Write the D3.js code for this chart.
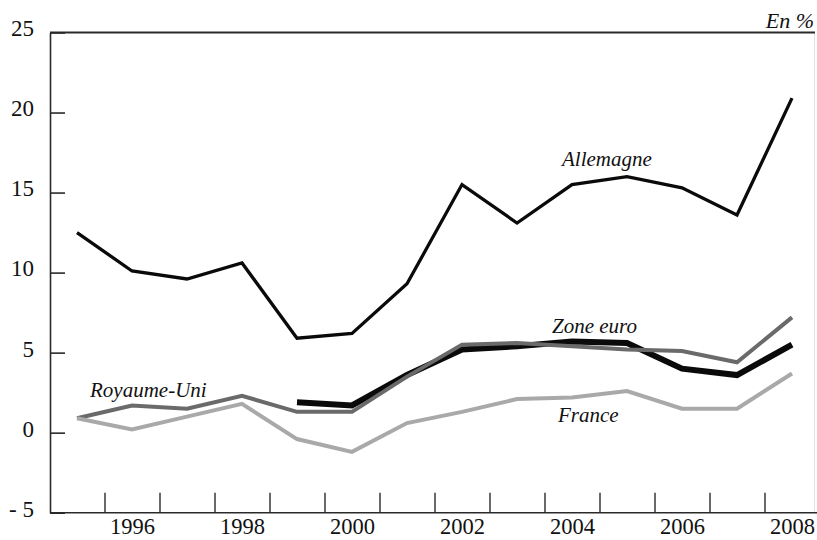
<!DOCTYPE html>
<html>
<head>
<meta charset="utf-8">
<script src="https://cdn.jsdelivr.net/npm/d3@7/dist/d3.min.js"></script>
<style>
  html, body { margin: 0; padding: 0; background: #fff; }
  svg { display: block; }
  text { font-family: "Liberation Serif", "Times New Roman", serif; fill: #111; }
</style>
</head>
<body>
<svg id="chart" width="817" height="540"></svg>
<script>
// ---- Data ----
const years = [1995, 1996, 1997, 1998, 1999, 2000, 2001, 2002, 2003, 2004, 2005, 2006, 2007, 2008];
const allemagne = [12.5, 10.1, 9.6, 10.6, 5.9, 6.2, 9.3, 15.5, 13.1, 15.5, 16.0, 15.3, 13.6, 20.9];
const royaumeUni = [0.9, 1.7, 1.5, 2.3, 1.3, 1.3, 3.5, 5.5, 5.6, 5.4, 5.2, 5.1, 4.4, 7.2];
const france = [0.9, 0.2, 1.0, 1.8, -0.4, -1.2, 0.6, 1.3, 2.1, 2.2, 2.6, 1.5, 1.5, 3.7];
const zoneEuro = [null, null, null, null, 1.9, 1.7, 3.6, 5.2, 5.4, 5.7, 5.6, 4.0, 3.6, 5.5];
const yTicks = [25, 20, 15, 10, 5, 0, -5];
const yTickLabels = ["25", "20", "15", "10", "5", "0", "- 5"];
const xLabelYears = [1996, 1998, 2000, 2002, 2004, 2006, 2008];
const unitLabel = "En %";

const series = [
  { name: "Zone euro", values: zoneEuro, color: "#0a0a0a", width: 6, label: { x: 552, y: 333 } },
  { name: "Royaume-Uni", values: royaumeUni, color: "#6a6a6a", width: 4, label: { x: 90, y: 397 } },
  { name: "France", values: france, color: "#a9a9a9", width: 4, label: { x: 558, y: 422 } },
  { name: "Allemagne", values: allemagne, color: "#0a0a0a", width: 3.3, label: { x: 562, y: 166 } }
];

// ---- Layout ----
const svg = d3.select("#chart");
const plotLeft = 50, plotTop = 32.5, plotBottom = 512.7, plotRight = 817;

const x = d3.scaleLinear().domain([1994.5, 2008.5]).range([49.5, 819.5]);
const y = d3.scaleLinear().domain([-5, 25]).range([plotBottom, plotTop]);

// faint right border
svg.append("line")
  .attr("x1", 814.5).attr("x2", 814.5).attr("y1", plotTop).attr("y2", plotBottom)
  .attr("stroke", "#e2e2e2").attr("stroke-width", 1);

// top frame line
svg.append("line")
  .attr("x1", plotLeft).attr("x2", 815).attr("y1", plotTop).attr("y2", plotTop)
  .attr("stroke", "#2a2a2a").attr("stroke-width", 2);

// Y axis
const yAxis = d3.axisLeft(y)
  .tickValues(yTicks)
  .tickFormat((d, i) => yTickLabels[i])
  .tickSizeInner(-15)
  .tickSizeOuter(0)
  .tickPadding(16);
const gy = svg.append("g").attr("transform", `translate(${plotLeft},0)`).call(yAxis);
gy.select(".domain").attr("stroke", "#2a2a2a").attr("stroke-width", 1.6);
gy.selectAll(".tick line").attr("stroke", "#2a2a2a").attr("stroke-width", 1.6);
gy.selectAll(".tick text")
  .attr("font-size", 23)
  .attr("fill", "#111")
  .attr("font-family", "Liberation Serif, serif")
  .attr("dy", "0.32em")
  .attr("y", -4);

// X axis ticks at year boundaries
const boundaries = years.slice(1).map(v => v - 0.5);
const xAxisTicks = d3.axisBottom(x)
  .tickValues(boundaries)
  .tickFormat("")
  .tickSizeInner(-20)
  .tickSizeOuter(0);
const gx = svg.append("g").attr("transform", `translate(0,${plotBottom})`).call(xAxisTicks);
gx.select(".domain").attr("stroke", "#2a2a2a").attr("stroke-width", 1.6)
  .attr("d", `M${plotLeft},0H${plotRight}`);
gx.selectAll(".tick line").attr("stroke", "#2a2a2a").attr("stroke-width", 1.4);

// X labels
const xAxisLabels = d3.axisBottom(x)
  .tickValues(xLabelYears)
  .tickFormat(d3.format("d"))
  .tickSize(0)
  .tickPadding(5);
const gxl = svg.append("g").attr("transform", `translate(0,${plotBottom})`).call(xAxisLabels);
gxl.select(".domain").remove();
gxl.selectAll(".tick text")
  .attr("font-size", 22.5)
  .attr("fill", "#111")
  .attr("font-family", "Liberation Serif, serif");

// Lines
const line = d3.line()
  .defined(d => d.v !== null)
  .x(d => x(d.year))
  .y(d => y(d.v))
  .curve(d3.curveLinear);

series.forEach(s => {
  const pts = years.map((yr, i) => ({ year: yr, v: s.values[i] }));
  svg.append("path")
    .datum(pts)
    .attr("fill", "none")
    .attr("stroke", s.color)
    .attr("stroke-width", s.width)
    .attr("stroke-linejoin", "miter")
    .attr("stroke-linecap", "butt")
    .attr("d", line);
});

// Series labels
series.forEach(s => {
  svg.append("text")
    .attr("x", s.label.x)
    .attr("y", s.label.y)
    .attr("font-size", 21)
    .attr("font-style", "italic")
    .text(s.name);
});

// Unit label
svg.append("text")
  .attr("x", 814)
  .attr("y", 28)
  .attr("text-anchor", "end")
  .attr("font-size", 22)
  .attr("font-style", "italic")
  .text(unitLabel);
</script>
</body>
</html>
